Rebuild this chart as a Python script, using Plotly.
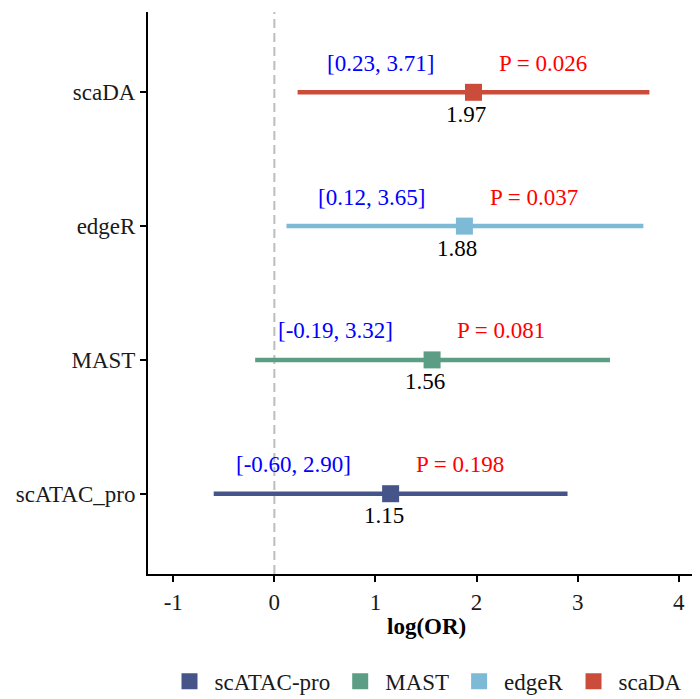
import plotly.graph_objects as go

methods = ["scATAC_pro", "MAST", "edgeR", "scaDA"]
legend_names = ["scATAC-pro", "MAST", "edgeR", "scaDA"]
estimates = [1.15, 1.56, 1.88, 1.97]
lower = [-0.60, -0.19, 0.12, 0.23]
upper = [2.90, 3.32, 3.65, 3.71]
p_values = ["0.198", "0.081", "0.037", "0.026"]
colors = ["#45558A", "#5B9E85", "#7DBAD6", "#CC4C3B"]
x_ticks = [-1, 0, 1, 2, 3, 4]

FONT = "Liberation Serif"
FS = 23

fig = go.Figure()

for m, name, e, lo, hi, c in zip(methods, legend_names, estimates, lower, upper, colors):
    fig.add_trace(go.Scatter(
        x=[lo, hi], y=[m, m], mode="lines",
        line=dict(color=c, width=4.5),
        legendgroup=name, showlegend=False, hoverinfo="skip",
    ))
    fig.add_trace(go.Scatter(
        x=[e], y=[m], mode="markers",
        marker=dict(symbol="square", size=17, color=c),
        name=name, legendgroup=name, showlegend=True,
    ))

annotations = []
for m, e, lo, hi, p in zip(methods, estimates, lower, upper, p_values):
    annotations.append(dict(
        x=e - 0.37, y=m, xref="x", yref="y", text=f"[{lo:.2f}, {hi:.2f}]",
        showarrow=False, xanchor="right", yanchor="middle", yshift=29,
        font=dict(family=FONT, size=FS, color="blue"),
    ))
    annotations.append(dict(
        x=e + 0.23, y=m, xref="x", yref="y", text=f"P = {p}",
        showarrow=False, xanchor="left", yanchor="middle", yshift=29,
        font=dict(family=FONT, size=FS, color="red"),
    ))
    annotations.append(dict(
        x=e - 0.07, y=m, xref="x", yref="y", text=f"{e:.2f}",
        showarrow=False, xanchor="center", yanchor="middle", yshift=-22,
        font=dict(family=FONT, size=FS, color="black"),
    ))

annotations.append(dict(
    x=0.5, y=-0.093, xref="paper", yref="paper", text="<b>log(OR)</b>",
    showarrow=False, xanchor="center", yanchor="middle",
    font=dict(family=FONT, size=FS, color="black"),
))

fig.add_shape(type="line", x0=0, x1=0, xref="x", y0=0, y1=1, yref="paper",
              line=dict(color="#BDBDBD", width=2, dash="9px,5px"), layer="below")

fig.update_layout(
    width=700, height=699,
    margin=dict(l=140, r=4, t=4, b=125),
    plot_bgcolor="white", paper_bgcolor="white",
    font=dict(family=FONT, size=FS, color="black"),
    annotations=annotations,
    showlegend=True,
    legend=dict(orientation="h", x=0.5, xanchor="center", y=-0.191, yanchor="middle",
                font=dict(family=FONT, size=FS, color="#1a1a1a"), itemsizing="trace",
                itemwidth=40),
    xaxis=dict(range=[-1.25, 4.25], tickvals=x_ticks, ticktext=[str(t) for t in x_ticks],
               showline=True, linecolor="black", linewidth=2, ticks="outside",
               ticklen=6, tickwidth=1.5, tickcolor="black", showgrid=False, zeroline=False,
               tickfont=dict(family=FONT, size=FS, color="#1a1a1a")),
    yaxis=dict(type="category", categoryorder="array", categoryarray=methods,
               range=[-0.6, 3.6], showline=True, linecolor="black", linewidth=2,
               ticks="outside", ticklen=6, tickwidth=1.5, tickcolor="black",
               showgrid=False, zeroline=False,
               tickfont=dict(family=FONT, size=FS, color="#1a1a1a")),
)

fig.write_html("out.html")
